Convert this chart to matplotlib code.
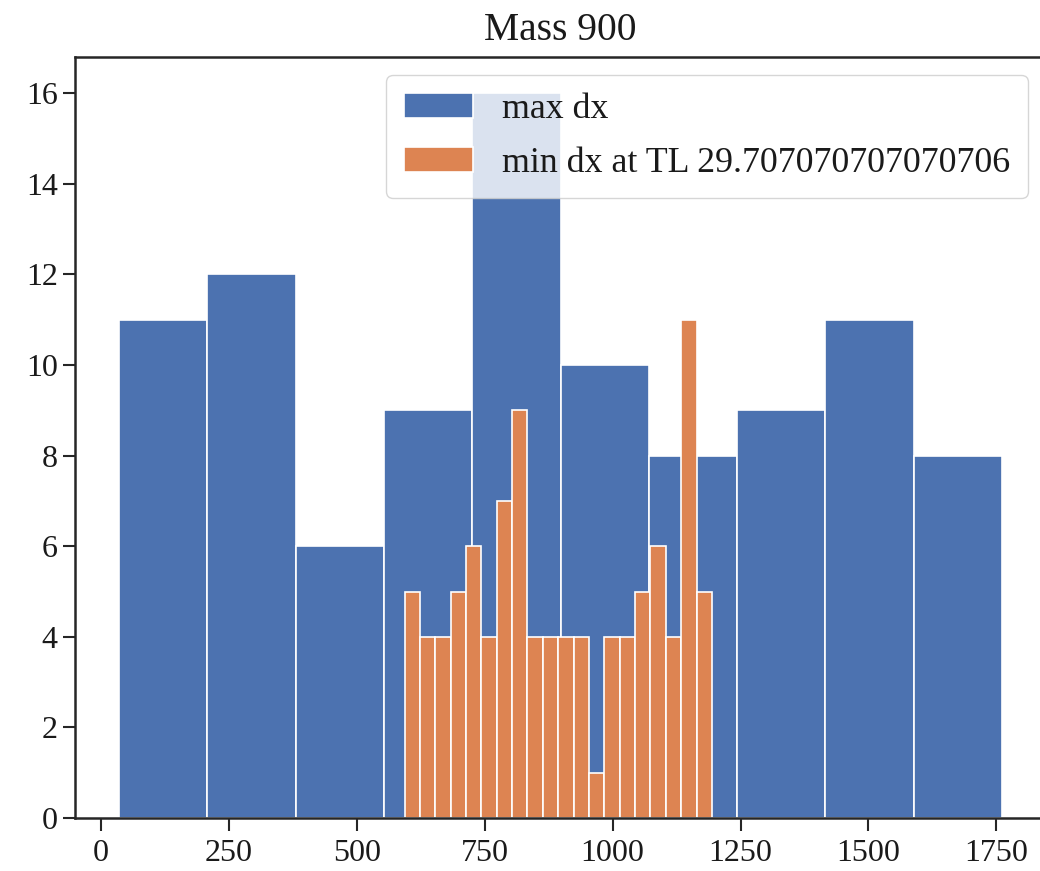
import numpy as np
import matplotlib
matplotlib.use("Agg")
import matplotlib.pyplot as plt
import seaborn as sns

# Data
max_counts = [11, 12, 6, 9, 16, 10, 8, 9, 11, 8]
max_range = (35.0, 1761.0)
min_counts = [5, 4, 4, 5, 6, 4, 7, 9, 4, 4, 4, 4, 1, 4, 4, 5, 6, 4, 11, 5]
min_range = (593.0, 1194.0)
labels = ["max dx", "min dx at TL 29.707070707070706"]
title = "Mass 900"

sns.set_theme(style="ticks")
plt.rcParams['font.family'] = ['Liberation Serif', 'DejaVu Serif']
plt.rcParams['font.size'] = 23

fig = plt.figure(figsize=(10.4, 8.71), dpi=100)
ax = fig.add_axes([75/1040, 53/871, (1046-75)/1040, (818-57)/871])

blue_edges = np.linspace(max_range[0], max_range[1], len(max_counts) + 1)
orange_edges = np.linspace(min_range[0], min_range[1], len(min_counts) + 1)
blue_centers = (blue_edges[:-1] + blue_edges[1:]) / 2
orange_centers = (orange_edges[:-1] + orange_edges[1:]) / 2

ax.hist(blue_centers, bins=blue_edges, weights=max_counts, color="#4c72b0",
        edgecolor="white", linewidth=1.2, label=labels[0])
ax.hist(orange_centers, bins=orange_edges, weights=min_counts, color="#dd8452",
        edgecolor="white", linewidth=1.2, label=labels[1])

ax.set_xticks([0, 250, 500, 750, 1000, 1250, 1500, 1750])
ax.set_yticks([0, 2, 4, 6, 8, 10, 12, 14, 16])
ax.tick_params(labelsize=23, length=9, width=1.5, color="#262626",
               labelcolor="#1a1a1a")
ax.tick_params(axis="x", pad=6)
for s in ax.spines.values():
    s.set_linewidth(1.8)
    s.set_color("#262626")
ax.set_title(title, fontsize=28.5, pad=12, color="#1a1a1a")
leg = ax.legend(loc="upper right", fontsize=25.8, framealpha=0.8,
                handlelength=1.93, handleheight=0.68, borderpad=0.5,
                labelspacing=0.6, borderaxespad=0.5, handletextpad=0.8)
for t in leg.get_texts():
    t.set_color("#1a1a1a")
fig.savefig("out.png", dpi=100)
